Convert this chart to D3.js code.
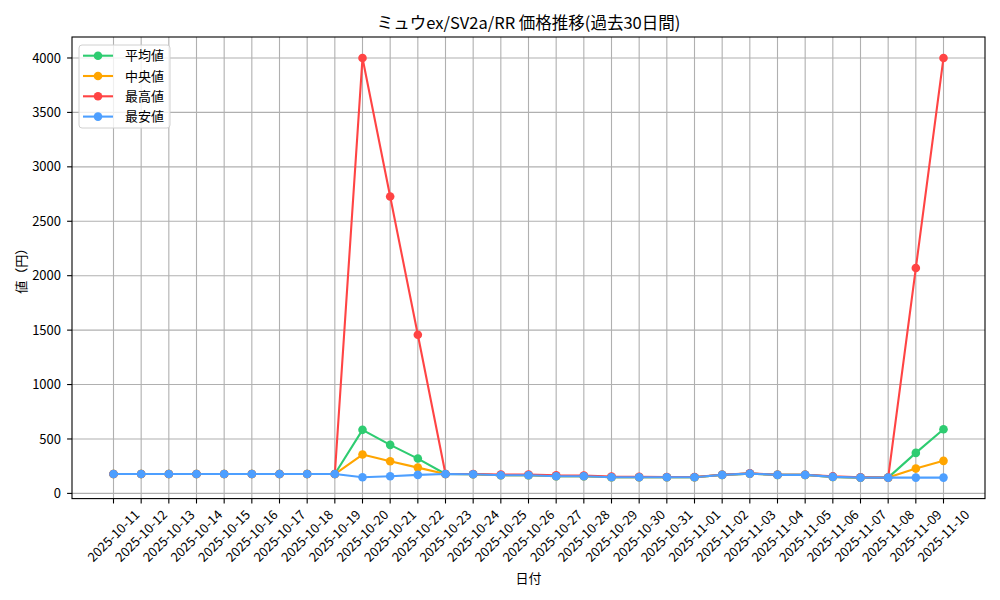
<!DOCTYPE html>
<html><head><meta charset="utf-8">
<script src="https://cdn.jsdelivr.net/npm/d3@7"></script>
<style>
body{margin:0;background:#fff;}
text{font-family:"Noto Sans CJK JP","DejaVu Sans",sans-serif;fill:#000;}
</style></head><body>
<svg id="chart" width="1000" height="600"></svg>
<script>
const dates = ["2025-10-11","2025-10-12","2025-10-13","2025-10-14","2025-10-15","2025-10-16","2025-10-17","2025-10-18","2025-10-19","2025-10-20","2025-10-21","2025-10-22","2025-10-23","2025-10-24","2025-10-25","2025-10-26","2025-10-27","2025-10-28","2025-10-29","2025-10-30","2025-10-31","2025-11-01","2025-11-02","2025-11-03","2025-11-04","2025-11-05","2025-11-06","2025-11-07","2025-11-08","2025-11-09","2025-11-10"];
const avgValues = [178,178,178,178,178,178,178,178,178,584,446,320,178,176,167,167,158,158,149,149,149,149,170,182,170,170,152,145,145,372,590];
const medianValues = [178,178,178,178,178,178,178,178,178,357,296,237,178,176,167,167,158,158,149,149,149,149,170,182,170,170,152,145,145,228,299];
const maxValues = [178,178,178,178,178,178,178,178,178,4000,2728,1457,178,178,174,174,166,164,155,152,150,150,172,184,172,172,156,148,145,2070,4000];
const minValues = [178,178,178,178,178,178,178,178,178,149,158,170,178,176,167,167,158,158,149,149,149,149,170,182,170,170,152,145,145,145,145];
const yTicks = [0,500,1000,1500,2000,2500,3000,3500,4000];
const seriesNames = ["平均値","中央値","最高値","最安値"];
const seriesColors = ["#2ecc71","#ffa500","#ff4444","#4d9fff"];
const title = "ミュウex/SV2a/RR 価格推移(過去30日間)";
const xLabel = "日付";
const yLabel = "値（円）";

const series = [avgValues, medianValues, maxValues, minValues];
const svg = d3.select("#chart");
const L = 72, R = 985, T = 37, B = 498.6;

const x = d3.scalePoint().domain(dates).range([L, R]).padding(1.5);
const all = series.flat();
const mn = d3.min(all), mx = d3.max(all), pad = (mx - mn) * 0.05;
const y = d3.scaleLinear().domain([mn - pad, mx + pad]).range([B, T]);

// grid
const g = svg.append("g");
g.selectAll(".vg").data(dates).enter().append("line")
  .attr("x1", d => x(d)).attr("x2", d => x(d)).attr("y1", T).attr("y2", B)
  .attr("stroke", "#b0b0b0").attr("stroke-width", 1.1);
g.selectAll(".hg").data(yTicks).enter().append("line")
  .attr("x1", L).attr("x2", R).attr("y1", d => y(d)).attr("y2", d => y(d))
  .attr("stroke", "#b0b0b0").attr("stroke-width", 1.1);

// lines
const line = d3.line().x((d, i) => x(dates[i])).y(d => y(d));
series.forEach((s, k) => {
  svg.append("path").datum(s).attr("d", line).attr("fill", "none")
    .attr("stroke", seriesColors[k]).attr("stroke-width", 2.1).attr("stroke-linejoin", "round");
  svg.selectAll(".m" + k).data(s).enter().append("circle")
    .attr("cx", (d, i) => x(dates[i])).attr("cy", d => y(d)).attr("r", 4.3)
    .attr("fill", seriesColors[k]);
});

// spines
svg.append("rect").attr("x", L).attr("y", T).attr("width", R - L).attr("height", B - T)
  .attr("fill", "none").attr("stroke", "#000").attr("stroke-width", 1.1);

// x ticks
const xt = svg.append("g");
dates.forEach(d => {
  xt.append("line").attr("x1", x(d)).attr("x2", x(d)).attr("y1", B).attr("y2", B + 4.9)
    .attr("stroke", "#000").attr("stroke-width", 1.1);
  xt.append("text").attr("transform", `translate(${x(d)},536) rotate(-45)`)
    .attr("text-anchor", "middle").attr("dy", "0.35em").attr("font-size", 13)
    .text(d);
});
// y ticks
yTicks.forEach(v => {
  svg.append("line").attr("x1", L - 4.9).attr("x2", L).attr("y1", y(v)).attr("y2", y(v))
    .attr("stroke", "#000").attr("stroke-width", 1.1);
  svg.append("text").attr("x", L - 11).attr("y", y(v)).attr("dy", "0.35em")
    .attr("text-anchor", "end").attr("font-size", 13).text(v);
});

svg.append("text").attr("x", (L + R) / 2).attr("y", 29).attr("text-anchor", "middle")
  .attr("font-size", 16.5).text(title);
svg.append("text").attr("x", (L + R) / 2).attr("y", 583).attr("text-anchor", "middle")
  .attr("font-size", 13).text(xLabel);
svg.append("text").attr("transform", `translate(26,${(T + B) / 2}) rotate(-90)`)
  .attr("text-anchor", "middle").attr("font-size", 13).text(yLabel);

// legend
const lg = svg.append("g");
lg.append("rect").attr("x", 79).attr("y", 45).attr("width", 91).attr("height", 83).attr("rx", 3)
  .attr("fill", "#fff").attr("fill-opacity", 0.8).attr("stroke", "#d0d0d0");
seriesNames.forEach((n, k) => {
  const yy = 55.7 + k * 20.3;
  lg.append("line").attr("x1", 83).attr("x2", 113).attr("y1", yy).attr("y2", yy)
    .attr("stroke", seriesColors[k]).attr("stroke-width", 2.1);
  lg.append("circle").attr("cx", 98).attr("cy", yy).attr("r", 4.3).attr("fill", seriesColors[k]);
  lg.append("text").attr("x", 125).attr("y", yy).attr("dy", "0.35em").attr("font-size", 13).text(n);
});
</script></body></html>
